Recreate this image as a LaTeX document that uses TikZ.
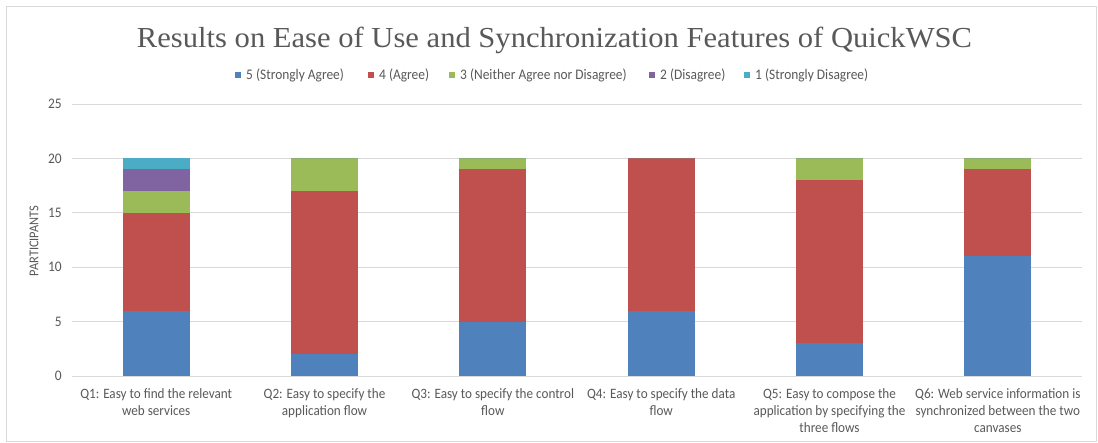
\documentclass[tikz,border=0pt]{standalone}
\usepackage{fontspec}
\usepackage{graphicx}
\setmainfont{Carlito}[FakeStretch=0.92]
\newfontfamily\titlefont{Liberation Serif}

\definecolor{labelgray}{HTML}{595959}
\definecolor{gridgray}{HTML}{D9D9D9}
\definecolor{cfive}{HTML}{4F81BD}
\definecolor{cfour}{HTML}{C0504D}
\definecolor{cthree}{HTML}{9BBB59}
\definecolor{ctwo}{HTML}{8064A2}
\definecolor{cone}{HTML}{4BACC6}

\tikzset{
  chartframe/.style={draw=gridgray, line width=0.8pt},
  gridline/.style={draw=gridgray, line width=0.9pt},
  ticklabel/.style={anchor=east, inner sep=0pt, text=labelgray, font=\fontsize{14.6}{17}\selectfont},
  catlabel/.style={anchor=north, inner sep=0pt, align=center, text=labelgray, font=\fontsize{14.3}{17}\selectfont},
  legendtext/.style={anchor=base west, inner sep=0pt, text=labelgray, font=\fontsize{14.6}{17}\selectfont},
  legendkey/.style={minimum size=6pt, inner sep=0pt}
}

\begin{document}
\begin{tikzpicture}[x=1pt, y=-1pt]
  \useasboundingbox (0,0) rectangle (1098,443);
  \fill[white] (0,0) rectangle (1098,443);
  \draw[chartframe] (6,6) rectangle (1096,441);

  % title
  \node[anchor=base, inner sep=0pt, text=labelgray] (title) at (554.5,48)
    {\resizebox{835pt}{\height}{\titlefont\fontsize{29}{30}\selectfont Results on Ease of Use and Synchronization Features of QuickWSC}};

  % legend
  \node[legendkey, fill=cfive]  (k5) at (238,75) {};
  \node[legendtext] (l5) at (246,80) {5 (Strongly Agree)};
  \node[legendkey, fill=cfour]  (k4) at (371,75) {};
  \node[legendtext] (l4) at (379,80) {4 (Agree)};
  \node[legendkey, fill=cthree] (k3) at (452,75) {};
  \node[legendtext] (l3) at (460,80) {3 (Neither Agree nor Disagree)};
  \node[legendkey, fill=ctwo]   (k2) at (652,75) {};
  \node[legendtext] (l2) at (660,80) {2 (Disagree)};
  \node[legendkey, fill=cone]   (k1) at (747,75) {};
  \node[legendtext] (l1) at (755,80) {1 (Strongly Disagree)};

  % value axis: gridlines and tick labels
  \foreach \v in {0,5,10,15,20,25} {
    \pgfmathsetmacro\gy{376-10.88*\v}
    \draw[gridline] (72,\gy) -- (1082,\gy);
    \node[ticklabel] (tick\v) at (62,\gy) {\v};
  }
  \node[rotate=90, inner sep=0pt, text=labelgray, font=\fontsize{13.5}{15}\selectfont] (ytitle) at (34,241) {PARTICIPANTS};

  % stacked bars: question / strongly agree / agree / neutral / disagree / strongly disagree
  \foreach \q/\a/\b/\c/\d/\e in {1/6/9/2/2/1, 2/2/15/3/0/0, 3/5/14/1/0/0, 4/6/14/0/0/0, 5/3/15/2/0/0, 6/11/8/1/0/0} {
    \pgfmathsetmacro\cx{72+168.33*(\q-0.5)}
    \pgfmathsetmacro\xl{\cx-33.5}
    \pgfmathsetmacro\xr{\cx+33.5}
    \pgfmathsetmacro\ya{376-10.88*\a}
    \pgfmathsetmacro\yb{376-10.88*(\a+\b)}
    \pgfmathsetmacro\yc{376-10.88*(\a+\b+\c)}
    \pgfmathsetmacro\yd{376-10.88*(\a+\b+\c+\d)}
    \pgfmathsetmacro\ye{376-10.88*(\a+\b+\c+\d+\e)}
    \fill[cfive]  (\xl,376) rectangle (\xr,\ya);
    \fill[cfour]  (\xl,\ya) rectangle (\xr,\yb);
    \fill[cthree] (\xl,\yb) rectangle (\xr,\yc);
    \fill[ctwo]   (\xl,\yc) rectangle (\xr,\yd);
    \fill[cone]   (\xl,\yd) rectangle (\xr,\ye);
  }

  % category labels
  \node[catlabel] (q1) at (156.2,388.5) {Q1: Easy to find the relevant\\web services};
  \node[catlabel] (q2) at (324.5,388.5) {Q2: Easy to specify the\\application flow};
  \node[catlabel] (q3) at (492.8,388.5) {Q3: Easy to specify the control\\flow};
  \node[catlabel] (q4) at (661.2,388.5) {Q4: Easy to specify the data\\flow};
  \node[catlabel] (q5) at (829.5,388.5) {Q5: Easy to compose the\\application by specifying the\\three flows};
  \node[catlabel] (q6) at (997.8,388.5) {Q6: Web service information is\\synchronized between the two\\canvases};
\end{tikzpicture}
\end{document}
